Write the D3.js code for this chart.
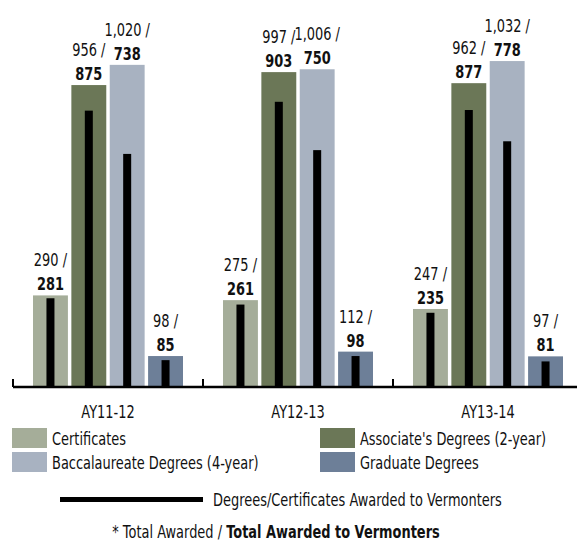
<!DOCTYPE html>
<html>
<head>
<meta charset="utf-8">
<script src="https://cdn.jsdelivr.net/npm/d3@7"></script>
<style>
  body { margin: 0; background: #fff; }
  text { font-family: "DejaVu Sans", sans-serif; fill: #111; }
</style>
</head>
<body>
<svg width="577" height="544"></svg>
<script>
var years = ["AY11-12", "AY12-13", "AY13-14"]
var types = ["Certificates", "Associate's Degrees (2-year)", "Baccalaureate Degrees (4-year)", "Graduate Degrees"]
var colors = ["#a5ad99", "#6b7757", "#a8b2c1", "#6d7f98"]
// total awarded, one array per type, in year order
var totals = [
  [290, 275, 247],
  [956, 997, 962],
  [1020, 1006, 1032],
  [98, 112, 97]
]
// awarded to vermonters
var vermont = [
  [281, 261, 235],
  [875, 903, 877],
  [738, 750, 778],
  [85, 98, 81]
]

var svg = d3.select("svg"),
	base = 387,
	squeezeK = 0.72, // no condensed font here, so narrow the text by hand
	fmt = d3.format(",")

// move x/y into a transform and squash horizontally
function squeeze(sel) {
	sel.each(function(){
		var t = d3.select(this)
		var x = +t.attr("x") || 0, yy = +t.attr("y") || 0
		t.attr("x", 0).attr("y", 0)
			.attr("transform", "translate(" + x + "," + yy + ") scale(" + squeezeK + ",1)")
	})
}

var x0 = d3.scaleBand().domain(years).range([13, 583])
var x1 = d3.scaleBand().domain(types).range([20, 170]).paddingInner(0.09)
var y = d3.scaleLinear().domain([0, 1200]).range([base, 8])
var color = d3.scaleOrdinal().domain(types).range(colors)

var cells = []
years.forEach(function(yr, i){
	types.forEach(function(t, j){
		cells.push({year: yr, type: t, total: totals[j][i], vt: vermont[j][i]})
	})
})

var g = svg.selectAll("g.year").data(years).enter().append("g")
	.attr("class", "year")
	.attr("transform", (d) => "translate(" + x0(d) + ",0)")

var bars = g.selectAll("g.bar").data((d) => cells.filter((c) => c.year == d)).enter().append("g")
	.attr("class", "bar")

bars.append("rect")
	.attr("x", (d) => x1(d.type))
	.attr("y", (d) => y(d.total))
	.attr("width", x1.bandwidth())
	.attr("height", (d) => base - y(d.total))
	.style("fill", (d) => color(d.type))

bars.append("rect")
	.attr("x", (d) => x1(d.type) + x1.bandwidth() / 2 - 4)
	.attr("y", (d) => y(d.vt))
	.attr("width", 8)
	.attr("height", (d) => base - y(d.vt))
	.style("fill", "#000")

bars.append("text")
	.attr("x", (d) => x1(d.type) + x1.bandwidth() / 2)
	.attr("y", (d) => y(d.total) - 29)
	.attr("text-anchor", "middle")
	.style("font-size", "18px")
	.text((d) => fmt(d.total) + " /")
	.call(squeeze)

bars.append("text")
	.attr("x", (d) => x1(d.type) + x1.bandwidth() / 2)
	.attr("y", (d) => y(d.total) - 5)
	.attr("text-anchor", "middle")
	.style("font-size", "18px")
	.style("font-weight", "bold")
	.text((d) => d.vt)
	.call(squeeze)

// axis: baseline with small upward ticks at group edges
svg.append("line")
	.attr("x1", 13).attr("x2", 577)
	.attr("y1", base).attr("y2", base)
	.style("stroke", "#000").style("stroke-width", 2.5)

svg.selectAll("line.tick").data(years).enter().append("line")
	.attr("class", "tick")
	.attr("x1", (d) => x0(d)).attr("x2", (d) => x0(d))
	.attr("y1", base - 8).attr("y2", base)
	.style("stroke", "#000").style("stroke-width", 2)

svg.selectAll("text.cat").data(years).enter().append("text")
	.attr("class", "cat")
	.attr("x", (d) => x0(d) + x0.bandwidth() / 2)
	.attr("y", 418)
	.attr("text-anchor", "middle")
	.style("font-size", "18px")
	.text((d) => d)
	.call(squeeze)

// legend
var legPos = [[12, 428], [320, 428], [12, 452], [320, 452]]
var leg = svg.selectAll("g.leg").data(types).enter().append("g")
	.attr("class", "leg")
	.attr("transform", (d, i) => "translate(" + legPos[i][0] + "," + legPos[i][1] + ")")
leg.append("rect")
	.attr("width", 35).attr("height", 20)
	.style("fill", (d) => color(d))
leg.append("text")
	.attr("x", 40).attr("y", 17)
	.style("font-size", "18px")
	.text((d) => d)
	.call(squeeze)

svg.append("rect")
	.attr("x", 60).attr("y", 497)
	.attr("width", 143).attr("height", 5)
	.style("fill", "#000")
svg.append("text")
	.attr("x", 213).attr("y", 506)
	.style("font-size", "18px")
	.text("Degrees/Certificates Awarded to Vermonters")
	.call(squeeze)

var note = svg.append("text")
	.attr("x", 276).attr("y", 538)
	.attr("text-anchor", "middle")
	.style("font-size", "18px")
note.append("tspan").text("* Total Awarded / ")
note.append("tspan").style("font-weight", "bold").text("Total Awarded to Vermonters")
note.call(squeeze)
</script>
</body>
</html>
